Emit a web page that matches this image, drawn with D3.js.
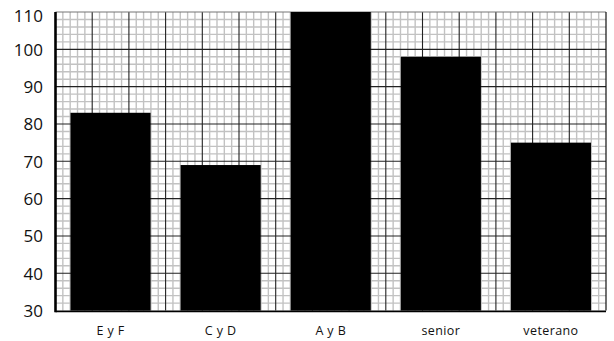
<!DOCTYPE html>
<html><head><meta charset="utf-8">
<script src="https://cdn.jsdelivr.net/npm/d3@7"></script>
<style>
html,body{margin:0;padding:0;background:#fff;}
svg{display:block;}
text{font-family:"Open Sans","DejaVu Sans",sans-serif;fill:#111;}
</style></head>
<body>
<svg id="chart" width="614" height="341"></svg>
<script>
const categories = ["E y F", "C y D", "A y B", "senior", "veterano"];
const values = [83, 69, 110, 98, 75];
const yTicks = [30, 40, 50, 60, 70, 80, 90, 100, 110];

const W = 614, H = 341;
const m = {left: 55.5, top: 12, right: 606, bottom: 310.6};
const svg = d3.select("#chart");

const x = d3.scaleBand().domain(categories).range([m.left, m.right])
  .paddingInner(0.2722).paddingOuter(0.1361);
const y = d3.scaleLinear().domain([30, 110]).range([m.bottom, m.top]);
// horizontal grid positions (units of the background paper)
const gx = d3.scaleLinear().domain([0, 15]).range([m.left, m.right]);

const grid = svg.append("g");
// minor grid
const minorX = d3.range(0, 15.0001, 0.2).filter(v => Math.abs(v - Math.round(v)) > 1e-6);
const minorY = d3.range(30, 110.0001, 2).filter(v => v % 10 !== 0);
grid.selectAll(".mx").data(minorX).join("line")
  .attr("x1", d => gx(d)).attr("x2", d => gx(d))
  .attr("y1", m.top).attr("y2", m.bottom)
  .attr("stroke", "#c2c2c2").attr("stroke-width", 1.4);
grid.selectAll(".my").data(minorY).join("line")
  .attr("y1", d => y(d)).attr("y2", d => y(d))
  .attr("x1", m.left).attr("x2", m.right)
  .attr("stroke", "#c2c2c2").attr("stroke-width", 1.4);
// major grid
grid.selectAll(".Mx").data(d3.range(1, 15)).join("line")
  .attr("x1", d => gx(d)).attr("x2", d => gx(d))
  .attr("y1", m.top).attr("y2", m.bottom)
  .attr("stroke", "#222").attr("stroke-width", 1.1);
grid.selectAll(".My").data(yTicks.filter(v => v > 30 && v < 110)).join("line")
  .attr("y1", d => y(d)).attr("y2", d => y(d))
  .attr("x1", m.left).attr("x2", m.right)
  .attr("stroke", "#222").attr("stroke-width", 1.1);
// top and right borders
svg.append("line").attr("x1", m.left).attr("x2", m.right).attr("y1", m.top).attr("y2", m.top)
  .attr("stroke", "#777").attr("stroke-width", 1.2);
svg.append("line").attr("x1", m.right).attr("x2", m.right).attr("y1", m.top).attr("y2", m.bottom)
  .attr("stroke", "#111").attr("stroke-width", 1.2);

// bars
svg.selectAll(".bar").data(values).join("rect")
  .attr("x", (d, i) => x(categories[i]))
  .attr("width", x.bandwidth())
  .attr("y", d => y(Math.min(d, 110)))
  .attr("height", d => y(30) - y(Math.min(d, 110)))
  .attr("fill", "#000");

// axes lines
svg.append("line").attr("x1", m.left).attr("x2", m.right).attr("y1", m.bottom + 0.8).attr("y2", m.bottom + 0.8)
  .attr("stroke", "#000").attr("stroke-width", 1.6);
svg.append("line").attr("x1", m.left).attr("x2", m.left).attr("y1", m.top).attr("y2", m.bottom + 1.6)
  .attr("stroke", "#000").attr("stroke-width", 2.6);

// y labels
svg.selectAll(".yl").data(yTicks).join("text")
  .attr("x", 43).attr("y", d => Math.max(y(d), 15))
  .attr("text-anchor", "end").attr("dominant-baseline", "central")
  .attr("font-size", 17).text(d => d);

// x labels
svg.selectAll(".xl").data(categories).join("text")
  .attr("x", d => x(d) + x.bandwidth() / 2).attr("y", 335)
  .attr("text-anchor", "middle").attr("font-size", 12.5)
  .attr("letter-spacing", 0.4).text(d => d);
</script>
</body></html>
